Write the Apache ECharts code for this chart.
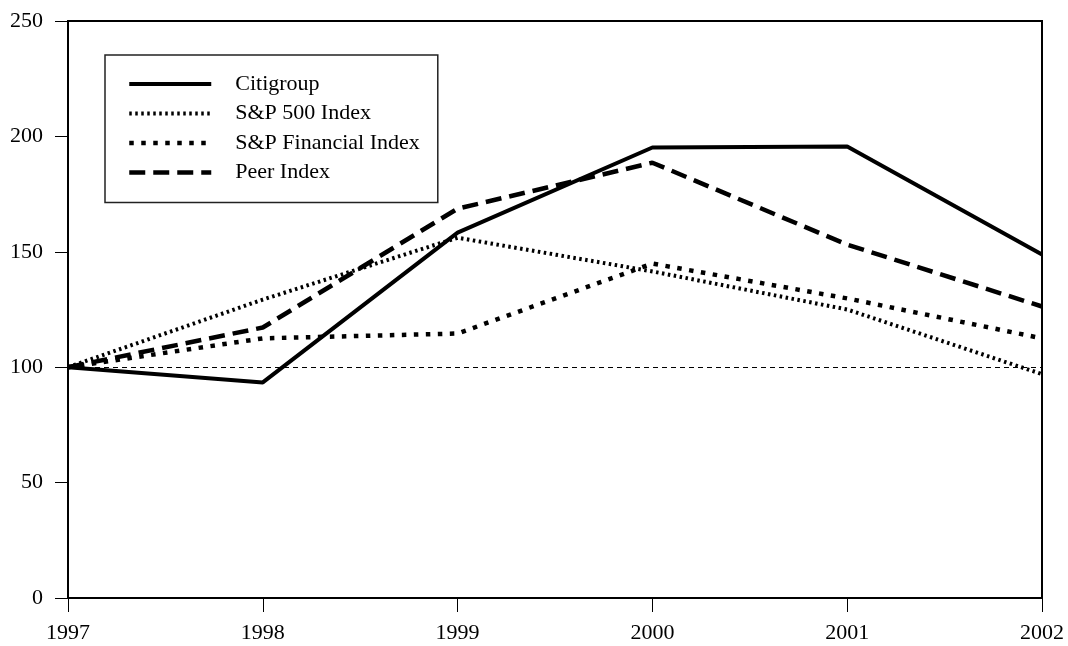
<!DOCTYPE html>
<html>
<head>
<meta charset="utf-8">
<script src="https://cdn.jsdelivr.net/npm/echarts@6/dist/echarts.min.js"></script>
<style>html,body{margin:0;padding:0;background:#fff}#c{width:1068px;height:646px}</style>
</head>
<body>
<div id="c"></div>
<script>
const years = ['1997','1998','1999','2000','2001','2002'];
const citigroup = [100, 93.4, 158.3, 195.2, 195.6, 148.8];
const sp500 = [100, 129.3, 156.1, 141.5, 125.0, 97.0];
const spFinancial = [100, 112.5, 114.6, 144.9, 129.8, 112.5];
const peerIndex = [100, 117.2, 168.7, 188.6, 153.1, 126.3];
const baseline = 100;

const font = 'Liberation Serif';
const chart = echarts.init(document.getElementById('c'));
const styles = {
  'Citigroup': { width: 4, type: 'solid' },
  'S&P 500 Index': { width: 4, type: [2.5, 3.5] },
  'S&P Financial Index': { width: 4.5, type: [4.5, 7.5] },
  'Peer Index': { width: 4.5, type: [16, 8] }
};
function ser(name, data) {
  const s = styles[name];
  return {
    name, type: 'line', data, symbol: 'none', silent: true,
    lineStyle: { color: '#000', width: s.width, type: s.type, cap: 'butt' },
    itemStyle: { color: '#000' }
  };
}
const series = [
  ser('Citigroup', citigroup),
  ser('S&P 500 Index', sp500),
  ser('S&P Financial Index', spFinancial),
  ser('Peer Index', peerIndex)
];
series[0].markLine = {
  silent: true, symbol: 'none', label: { show: false },
  lineStyle: { color: '#000', width: 1, type: [5, 4] },
  data: [{ yAxis: baseline }]
};
const legendData = Object.keys(styles).map(n => ({
  name: n,
  itemStyle: { opacity: 0 },
  lineStyle: { color: '#000', width: styles[n].width, type: styles[n].type, cap: 'butt' }
}));
chart.setOption({
  animation: false,
  backgroundColor: '#fff',
  grid: { left: 68, right: 26, top: 21, bottom: 48, show: true, borderColor: '#000', borderWidth: 2 },
  legend: {
    orient: 'vertical', left: 105, top: 55,
    padding: [18, 18, 19, 22],
    borderColor: '#222', borderWidth: 1.5,
    itemWidth: 82, itemHeight: 12, itemGap: 7.5,
    textStyle: { fontFamily: font, fontSize: 22, color: '#000', padding: [0, 0, 0, 19], width: 212 },
    data: legendData
  },
  xAxis: {
    type: 'category', data: years, boundaryGap: false,
    axisLine: { lineStyle: { color: '#000', width: 2 } },
    axisTick: { length: 14, lineStyle: { color: '#000', width: 1 } },
    axisLabel: { fontFamily: font, fontSize: 22, color: '#000', margin: 24 },
    splitLine: { show: false }
  },
  yAxis: {
    type: 'value', min: 0, max: 250, interval: 50,
    axisLine: { show: true, lineStyle: { color: '#000', width: 2 } },
    axisTick: { show: true, length: 13, lineStyle: { color: '#000', width: 1 } },
    axisLabel: { fontFamily: font, fontSize: 22, color: '#000', margin: 25 },
    splitLine: { show: false }
  },
  series
});
</script>
</body>
</html>
